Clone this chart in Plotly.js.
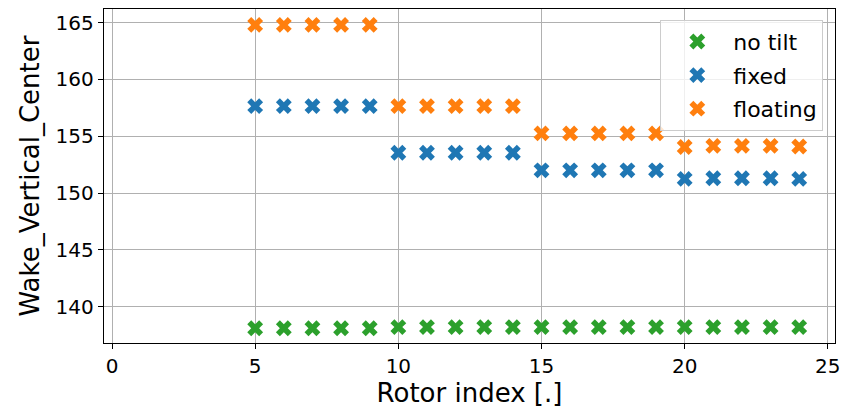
<!DOCTYPE html>
<html>
<head>
<meta charset="utf-8">
<script src="https://cdn.plot.ly/plotly-3.0.1.min.js"></script>
<style>html,body{margin:0;padding:0;background:#fff;}#chart{width:844px;height:412px;}</style>
</head>
<body>
<div id="chart"></div>
<script>
const rotorIndex = [5,6,7,8,9,10,11,12,13,14,15,16,17,18,19,20,21,22,23,24];
const noTilt = [138.1,138.1,138.1,138.1,138.1,138.2,138.2,138.2,138.2,138.2,138.2,138.2,138.2,138.2,138.2,138.2,138.2,138.2,138.2,138.2];
const fixed = [157.65,157.65,157.65,157.65,157.65,153.55,153.55,153.55,153.55,153.55,152.0,152.0,152.0,152.0,152.0,151.25,151.3,151.3,151.3,151.25];
const floating = [164.8,164.8,164.8,164.8,164.8,157.65,157.65,157.65,157.65,157.65,155.25,155.25,155.25,155.25,155.25,154.05,154.15,154.15,154.15,154.1];
const seriesNames = ["no tilt","fixed","floating"];
const seriesColors = ["#2ca02c","#1f77b4","#ff7f0e"];
const xTicks = [0,5,10,15,20,25];
const yTicks = [140,145,150,155,160,165];

const seriesData = [noTilt, fixed, floating];
const traces = seriesData.map((ys, i) => ({
  type: 'scatter', mode: 'markers', name: seriesNames[i], legendgroup: 'g' + i,
  x: rotorIndex, y: ys,
  marker: {symbol: 'x', size: 14, color: seriesColors[i], line: {width: 0}}
}));

const font = "DejaVu Sans, sans-serif";
const layout = {
  width: 844, height: 412,
  margin: {l: 104, r: 9, t: 9, b: 69},
  paper_bgcolor: '#fff', plot_bgcolor: '#fff',
  font: {family: font, color: '#000', size: 20},
  showlegend: true,
  legend: {
    x: 0.984, y: 0.968, xanchor: 'right', yanchor: 'top',
    bgcolor: 'rgba(255,255,255,0.8)', bordercolor: '#cccccc', borderwidth: 1,
    font: {family: font, size: 22, color: '#000'},
    itemwidth: 62, tracegroupgap: 2
  },
  xaxis: {
    range: [-0.28, 25.25], tickvals: xTicks, ticktext: xTicks.map(String),
    showgrid: true, gridcolor: '#b0b0b0', gridwidth: 1,
    zeroline: false, showline: true, linecolor: '#000', linewidth: 1.2, mirror: true,
    ticks: 'outside', ticklen: 5, tickcolor: '#000',
    tickfont: {family: font, size: 20},
    title: {text: 'Rotor index [.]', font: {family: font, size: 26}, standoff: 6}
  },
  yaxis: {
    range: [136.8, 166.2], tickvals: yTicks, ticktext: yTicks.map(String),
    showgrid: true, gridcolor: '#b0b0b0', gridwidth: 1,
    zeroline: false, showline: true, linecolor: '#000', linewidth: 1.2, mirror: true,
    ticks: 'outside', ticklen: 5, tickcolor: '#000',
    tickfont: {family: font, size: 20},
    title: {text: 'Wake_Vertical_Center', font: {family: font, size: 26}, standoff: 8}
  }
};
Plotly.newPlot('chart', traces, layout, {displayModeBar: false, staticPlot: true});
</script>
</body>
</html>
